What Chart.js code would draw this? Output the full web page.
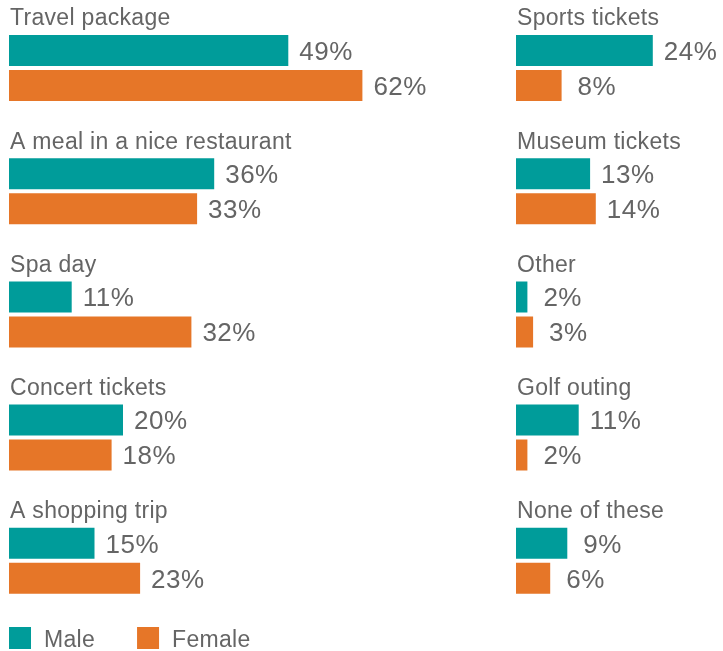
<!DOCTYPE html>
<html>
<head>
<meta charset="utf-8">
<script src="https://cdn.jsdelivr.net/npm/chart.js@4/dist/chart.umd.min.js"></script>
<style>
  html, body { margin: 0; padding: 0; background: #fff; }
  #wrap { position: relative; width: 723px; height: 651px; }
  #izq { position: absolute; left: 0; top: 0; }
  #der { position: absolute; left: 507px; top: 0; }
</style>
</head>
<body>
<div id="wrap">
  <canvas id="izq" width="500" height="651"></canvas>
  <canvas id="der" width="216" height="651"></canvas>
</div>
<script>
// columna izquierda
const categoriasIzq = ['Travel package', 'A meal in a nice restaurant', 'Spa day', 'Concert tickets', 'A shopping trip'];
const hombresIzq = [49, 36, 11, 20, 15];
const mujeresIzq = [62, 33, 32, 18, 23];

// columna derecha
const categoriasDer = ['Sports tickets', 'Museum tickets', 'Other', 'Golf outing', 'None of these'];
const hombresDer = [24, 13, 2, 11, 9];
const mujeresDer = [8, 14, 3, 2, 6];

const series = ['Male', 'Female'];
const colores = ['#009c9a', '#e67628'];
const gris = '#656565';
const fuente = '"Liberation Sans", Arial, Helvetica, sans-serif';

// nombre de la categoría arriba de cada par de barras y el % al final de cada barra
const etiquetas = {
  id: 'etiquetas',
  afterDatasetsDraw(chart) {
    const ctx = chart.ctx;
    ctx.save();
    ctx.fillStyle = gris;
    ctx.textAlign = 'left';
    ctx.textBaseline = 'alphabetic';

    ctx.font = '23px ' + fuente;
    ctx.letterSpacing = '0.3px';
    chart.getDatasetMeta(0).data.forEach((bar, i) => {
      ctx.fillText(chart.data.labels[i], chart.chartArea.left + 1, bar.y - bar.height / 2 - 9.7);
    });

    ctx.font = '26px ' + fuente;
    ctx.letterSpacing = '0.5px';
    chart.data.datasets.forEach((ds, d) => {
      chart.getDatasetMeta(d).data.forEach((bar, i) => {
        const v = ds.data[i];
        const sep = v < 10 ? 16 : 11;
        ctx.fillText(v + '%', bar.x + sep, bar.y + 9.3);
      });
    });
    ctx.restore();
  }
};

// leyenda abajo a la izquierda
const leyenda = {
  id: 'leyenda',
  afterDraw(chart) {
    const ctx = chart.ctx;
    ctx.save();
    ctx.font = '23px ' + fuente;
    ctx.letterSpacing = '0.3px';
    ctx.textBaseline = 'alphabetic';
    let x = chart.chartArea.left;
    const y = 627;
    chart.data.datasets.forEach(ds => {
      ctx.fillStyle = ds.backgroundColor;
      ctx.fillRect(x, y, 22, 22);
      ctx.fillStyle = gris;
      ctx.fillText(ds.label, x + 35, y + 19.5);
      x += 35 + ctx.measureText(ds.label).width + 42;
    });
    ctx.restore();
  }
};

function crearGrafico(id, categorias, hombres, mujeres, maximo, padDer, conLeyenda) {
  const plugins = [etiquetas];
  if (conLeyenda) plugins.push(leyenda);
  return new Chart(document.getElementById(id), {
    type: 'bar',
    data: {
      labels: categorias,
      datasets: [
        { label: series[0], data: hombres, backgroundColor: colores[0] },
        { label: series[1], data: mujeres, backgroundColor: colores[1] }
      ]
    },
    options: {
      indexAxis: 'y',
      responsive: false,
      animation: false,
      categoryPercentage: 0.568,
      barPercentage: 0.886,
      layout: { padding: { left: 9, right: padDer, top: 6.4, bottom: 28.6 } },
      scales: {
        x: { display: false, min: 0, max: maximo },
        y: { display: false }
      },
      plugins: {
        legend: { display: false },
        tooltip: { enabled: false }
      }
    },
    plugins: plugins
  });
}

crearGrafico('izq', categoriasIzq, hombresIzq, mujeresIzq, 80, 35, true);
crearGrafico('der', categoriasDer, hombresDer, mujeresDer, 35, 7.5, false);
</script>
</body>
</html>
